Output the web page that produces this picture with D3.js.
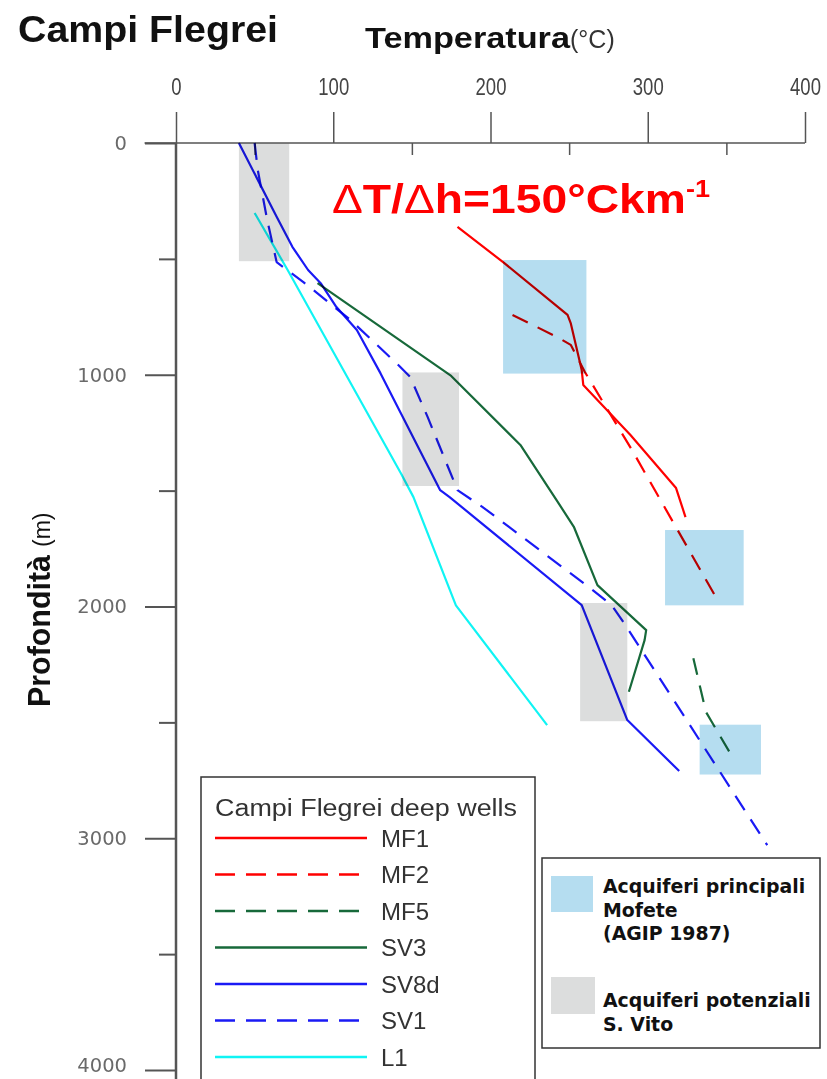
<!DOCTYPE html>
<html>
<head>
<meta charset="utf-8">
<script src="https://cdn.jsdelivr.net/npm/d3@7"></script>
<style>
  body { margin: 0; background: #fff; }
  svg { display: block; }
  .well { fill: none; stroke-width: 2.2; stroke-linejoin: round; mix-blend-mode: multiply; }
</style>
</head>
<body>
<svg id="chart" width="827" height="1079"></svg>
<script>
// ---- data: [temperature °C, depth m] ----
const mf1  = [[179,362],[208,514],[249,742],[251,777],[258,980],[259,1044],[289,1260],[318,1489],[324,1614]];
const mf2  = [[214,742],[242,836],[251,871],[260,988],[290,1325],[344,1968]];
const mf5  = [[329,2223],[337,2455],[355,2663]];
const sv3  = [[90,605],[175,1005],[219,1303],[242,1541],[253,1656],[268,1908],[299,2102],[298,2145],[288,2368]];
const sv8d = [[40,0],[64,318],[74,448],[84,548],[92,605],[102,708],[115,807],[130,993],[168,1498],[174,1528],[258,1994],[287,2490],[320,2710]];
const sv1  = [[50,0],[52,117],[58,332],[64,514],[81,600],[111,764],[142,962],[149,1010],[160,1182],[179,1498],[195,1571],[265,1929],[277,1994],[285,2072],[376,3030]];
const l1   = [[50,302],[71,548],[143,1425],[151,1528],[178,1995],[236,2512]];

// aquifers: [tMin, tMax, dMin, dMax]
const mofeteAquifers = [[208,261,505,995],[311,361,1670,1995],[333,372,2510,2725]];
const svitoAquifers  = [[40,72,0,510],[144,180,990,1480],[257,287,1985,2495]];

const tempTicks  = [0,100,200,300,400];
const tempMinor  = [50,150,250,350];
const depthTicks = [0,1000,2000,3000,4000];
const depthMinor = [500,1500,2500,3500];

const wellNames = ['MF1','MF2','MF5','SV3','SV8d','SV1','L1'];
const wellData  = [mf1, mf2, mf5, sv3, sv8d, sv1, l1];
const RED = '#ff0000', GREEN = '#17693a', BLUE = '#1a1af5', CYAN = '#10f4f4';
const wellColors = [RED, RED, GREEN, GREEN, BLUE, BLUE, CYAN];
const wellDashed = [false, true, true, false, false, true, false];

const svg = d3.select('#chart');
const x = d3.scaleLinear().domain([0, 400]).range([176, 805]);
const y = d3.scaleLinear().domain([0, 4000]).range([143, 1070]);
const AXIS = '#555';
const SANS = 'Liberation Sans, Arial, sans-serif';

// aquifer boxes
const rectG = svg.append('g');
function drawBoxes(rows, fill) {
  rectG.selectAll(null).data(rows).join('rect')
    .attr('x', d => x(d[0])).attr('width', d => x(d[1]) - x(d[0]))
    .attr('y', d => y(d[2])).attr('height', d => y(d[3]) - y(d[2]))
    .attr('fill', fill);
}
drawBoxes(svitoAquifers, '#dcdddd');
drawBoxes(mofeteAquifers, '#b5ddf0');

// axes
const topAxis = svg.append('g').attr('transform', `translate(0,${y(0)})`)
  .call(d3.axisTop(x).tickValues(tempTicks).tickSize(31).tickPadding(17));
topAxis.select('.domain').remove();
topAxis.selectAll('line').attr('stroke', AXIS).attr('stroke-width', 1.5);
topAxis.selectAll('text')
  .attr('font-family', SANS).attr('font-size', 23).attr('fill', '#444')
  .attr('textLength', d => String(d).length * 10.3).attr('lengthAdjust', 'spacingAndGlyphs');

const topMinor = svg.append('g').attr('transform', `translate(0,${y(0)})`)
  .call(d3.axisBottom(x).tickValues(tempMinor).tickSize(12).tickFormat(''));
topMinor.select('.domain').remove();
topMinor.selectAll('line').attr('stroke', AXIS).attr('stroke-width', 1.5);

svg.append('line')
  .attr('x1', x(-20)).attr('x2', x(400)).attr('y1', y(0)).attr('y2', y(0))
  .attr('stroke', AXIS).attr('stroke-width', 1.5);

const leftAxis = svg.append('g').attr('transform', `translate(${x(0)},0)`)
  .call(d3.axisLeft(y).tickValues(depthTicks).tickSize(31).tickPadding(18).tickFormat(d3.format('d')));
leftAxis.select('.domain').remove();
leftAxis.selectAll('line').attr('stroke', AXIS).attr('stroke-width', 2);
leftAxis.selectAll('text')
  .attr('font-family', 'DejaVu Sans, Verdana, sans-serif').attr('font-size', 19.5).attr('fill', '#6a6a6a')
  .attr('dy', d => d === 4000 ? '0.1em' : '0.32em'); // last label sits on the bottom edge

const leftMinor = svg.append('g').attr('transform', `translate(${x(0)},0)`)
  .call(d3.axisLeft(y).tickValues(depthMinor).tickSize(17).tickFormat(''));
leftMinor.select('.domain').remove();
leftMinor.selectAll('line').attr('stroke', AXIS).attr('stroke-width', 2);

svg.append('line')
  .attr('x1', x(0)).attr('x2', x(0)).attr('y1', y(0)).attr('y2', y(4040))
  .attr('stroke', AXIS).attr('stroke-width', 2.5);

// well profiles
const line = d3.line().x(d => x(d[0])).y(d => y(d[1]));
svg.append('g').selectAll('path').data(wellData).join('path')
  .attr('class', 'well')
  .attr('stroke', (d, i) => wellColors[i])
  .attr('stroke-dasharray', (d, i) => wellDashed[i] ? '17,11' : null)
  .attr('d', line);

// titles
svg.append('text').attr('x', 18).attr('y', 42)
  .attr('font-family', SANS).attr('font-weight', 'bold').attr('font-size', 37)
  .attr('textLength', 260).attr('lengthAdjust', 'spacingAndGlyphs').attr('fill', '#111')
  .text('Campi Flegrei');

const tt = svg.append('text').attr('x', 365).attr('y', 48)
  .attr('font-family', SANS).attr('fill', '#111');
tt.append('tspan').attr('font-weight', 'bold').attr('font-size', 29)
  .attr('textLength', 205).attr('lengthAdjust', 'spacingAndGlyphs').text('Temperatura');
tt.append('tspan').attr('font-size', 25).attr('fill', '#333').text('(°C)');

const yl = svg.append('text').attr('transform', `translate(50,707) rotate(-90)`)
  .attr('font-family', SANS).attr('fill', '#111');
yl.append('tspan').attr('font-weight', 'bold').attr('font-size', 31)
  .attr('textLength', 152).attr('lengthAdjust', 'spacingAndGlyphs').text('Profondità');
yl.append('tspan').attr('font-size', 23).attr('dx', 8).text('(m)');

// gradient annotation
const an = svg.append('text').attr('x', 332).attr('y', 213)
  .attr('font-family', SANS).attr('font-weight', 'bold').attr('fill', RED).attr('font-size', 41)
  .attr('textLength', 378).attr('lengthAdjust', 'spacingAndGlyphs');
an.append('tspan').attr('font-weight', 'normal').text('Δ');
an.append('tspan').text('T/');
an.append('tspan').attr('font-weight', 'normal').text('Δ');
an.append('tspan').text('h=150°Ckm');
an.append('tspan').attr('font-size', 24).attr('dy', -16).text('-1');

// legend: wells
const lg = svg.append('g');
lg.append('rect').attr('x', 201).attr('y', 777).attr('width', 334).attr('height', 320)
  .attr('fill', '#fff').attr('stroke', '#333').attr('stroke-width', 1.5);
lg.append('text').attr('x', 215).attr('y', 816)
  .attr('font-family', SANS).attr('font-size', 23).attr('fill', '#333')
  .attr('textLength', 302).attr('lengthAdjust', 'spacingAndGlyphs')
  .text('Campi Flegrei deep wells');
const rowY = d3.scalePoint().domain(wellNames).range([838, 1057]);
const rows = lg.selectAll('g.row').data(wellNames).join('g').attr('class', 'row')
  .attr('transform', d => `translate(0,${rowY(d)})`);
rows.append('line').attr('x1', 215).attr('x2', 367)
  .attr('stroke', (d, i) => wellColors[i]).attr('stroke-width', 2.6)
  .attr('stroke-dasharray', (d, i) => wellDashed[i] ? '20,11' : null);
rows.append('text').attr('x', 381).attr('dy', '0.36em')
  .attr('font-family', SANS).attr('font-size', 24).attr('fill', '#333')
  .text(d => d);

// legend: aquifers
const lg2 = svg.append('g');
lg2.append('rect').attr('x', 542).attr('y', 858).attr('width', 278).attr('height', 190)
  .attr('fill', '#fff').attr('stroke', '#333').attr('stroke-width', 1.5);
lg2.append('rect').attr('x', 551).attr('y', 876).attr('width', 42).attr('height', 36).attr('fill', '#b5ddf0');
lg2.append('rect').attr('x', 551).attr('y', 977).attr('width', 44).attr('height', 37).attr('fill', '#dcdddd');
const aqText = [['Acquiferi principali', 'Mofete', '(AGIP 1987)'], ['Acquiferi potenziali', 'S. Vito']];
const aqTop = [893, 1007];
aqText.forEach((lines, k) => {
  lg2.append('text').attr('font-family', 'DejaVu Sans, Verdana, sans-serif').attr('font-weight', 'bold')
    .attr('font-size', 18.9).attr('fill', '#111')
    .selectAll('tspan').data(lines).join('tspan')
    .attr('x', 603).attr('y', (d, i) => aqTop[k] + i * 23.5).text(d => d);
});
</script>
</body>
</html>
